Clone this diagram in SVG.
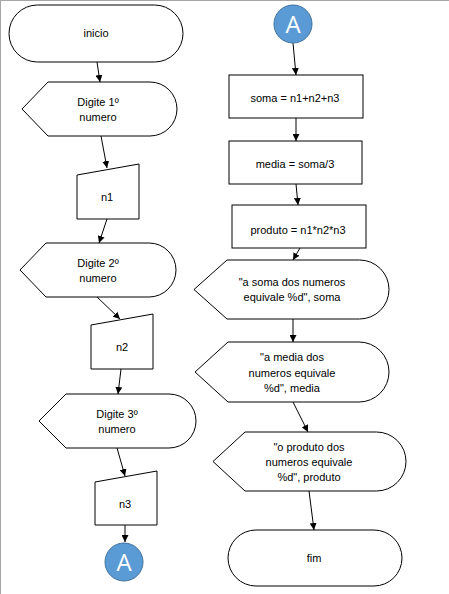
<svg xmlns="http://www.w3.org/2000/svg" width="449" height="594" viewBox="0 0 449 594">
  <style>
    .shape { fill: #ffffff; stroke: #000000; stroke-width: 1; }
    .conn { fill: none; stroke: #000000; stroke-width: 1; marker-end: url(#arrow); }
    .label { font-family: "Liberation Sans", Arial, sans-serif; font-size: 11px; fill: #000000; text-anchor: middle; }
    .conn-circle { fill: #5b9bd5; stroke: #41719c; stroke-width: 1; }
    .conn-label { font-family: "Open Sans", "Liberation Sans", Arial, sans-serif; font-size: 24px; fill: #ffffff; text-anchor: middle; }
  </style>
  <defs>
    <marker id="arrow" viewBox="0 0 10 10" refX="10" refY="5" markerWidth="7" markerHeight="7" markerUnits="userSpaceOnUse" orient="auto">
      <path d="M0,0 L10,5 L0,10 Z" fill="#000000"/>
    </marker>
  </defs>

  <rect width="449" height="594" fill="#ffffff"/>
  <!-- page frame edges -->
  <line x1="0" y1="0.5" x2="449" y2="0.5" stroke="#a6a6a6" stroke-width="1"/>
  <line x1="0.5" y1="0" x2="0.5" y2="594" stroke="#a6a6a6" stroke-width="1"/>

  <g id="connectors">
    <line class="conn" x1="97" y1="62" x2="100" y2="82"/>
    <line class="conn" x1="101" y1="136" x2="107" y2="168"/>
    <line class="conn" x1="107" y1="219" x2="99" y2="243"/>
    <line class="conn" x1="97" y1="297" x2="120" y2="319"/>
    <line class="conn" x1="121" y1="369" x2="118" y2="394"/>
    <line class="conn" x1="117" y1="448" x2="125" y2="476"/>
    <line class="conn" x1="125" y1="525" x2="125" y2="542"/>
    <line class="conn" x1="293" y1="43" x2="296" y2="75"/>
    <line class="conn" x1="296" y1="118" x2="296" y2="141"/>
    <line class="conn" x1="296" y1="184" x2="298" y2="205"/>
    <line class="conn" x1="300" y1="248" x2="293" y2="260"/>
    <line class="conn" x1="293" y1="319" x2="293" y2="342"/>
    <line class="conn" x1="293" y1="402" x2="308" y2="432"/>
    <line class="conn" x1="309" y1="491" x2="314" y2="530"/>
  </g>

  <g id="inicio">
    <rect class="shape" x="9" y="5" width="174" height="57" rx="28.5" ry="28.5"/>
    <text class="label" x="96" y="37">inicio</text>
  </g>

  <g id="digite1">
    <path class="shape" d="M22,109 L48,82 L150,82 A27,27 0 0 1 150,136 L48,136 Z"/>
    <text class="label" x="98" y="106">Digite 1º</text>
    <text class="label" x="98" y="121">numero</text>
  </g>

  <g id="n1">
    <path class="shape" d="M77,175 L139,164 L139,219 L77,219 Z"/>
    <text class="label" x="107" y="201">n1</text>
  </g>

  <g id="digite2">
    <path class="shape" d="M20,270 L46,243 L149,243 A27,27 0 0 1 149,297 L46,297 Z"/>
    <text class="label" x="98" y="267">Digite 2º</text>
    <text class="label" x="98" y="282">numero</text>
  </g>

  <g id="n2">
    <path class="shape" d="M91,325 L153,314 L153,369 L91,369 Z"/>
    <text class="label" x="122" y="351">n2</text>
  </g>

  <g id="digite3">
    <path class="shape" d="M39,421 L66,394 L169,394 A27,27 0 0 1 169,448 L66,448 Z"/>
    <text class="label" x="117" y="418">Digite 3º</text>
    <text class="label" x="117" y="433">numero</text>
  </g>

  <g id="n3">
    <path class="shape" d="M95,482 L157,471 L157,525 L95,525 Z"/>
    <text class="label" x="125" y="508">n3</text>
  </g>

  <g id="connector-a-out">
    <circle class="conn-circle" cx="124" cy="562" r="19"/>
    <text class="conn-label" x="124" y="571">A</text>
  </g>

  <g id="connector-a-in">
    <circle class="conn-circle" cx="293" cy="24" r="19"/>
    <text class="conn-label" x="293" y="33">A</text>
  </g>

  <g id="soma">
    <rect class="shape" x="229" y="75" width="134" height="43"/>
    <text class="label" x="295" y="102">soma = n1+n2+n3</text>
  </g>

  <g id="media">
    <rect class="shape" x="229" y="141" width="133" height="43"/>
    <text class="label" x="295" y="168">media = soma/3</text>
  </g>

  <g id="produto">
    <rect class="shape" x="232" y="205" width="134" height="43"/>
    <text class="label" x="298" y="234">produto = n1*n2*n3</text>
  </g>

  <g id="print-soma">
    <path class="shape" d="M194,289.5 L227,260 L359.5,260 A29.5,29.5 0 0 1 359.5,319 L227,319 Z"/>
    <text class="label" x="292" y="286">"a soma dos numeros</text>
    <text class="label" x="292" y="301">equivale %d", soma</text>
  </g>

  <g id="print-media">
    <path class="shape" d="M195,372 L228,342 L359,342 A30,30 0 0 1 359,402 L228,402 Z"/>
    <text class="label" x="292" y="361">"a media dos</text>
    <text class="label" x="292" y="377">numeros equivale</text>
    <text class="label" x="292" y="392">%d", media</text>
  </g>

  <g id="print-produto">
    <path class="shape" d="M213,461.5 L245,432 L376.5,432 A29.5,29.5 0 0 1 376.5,491 L245,491 Z"/>
    <text class="label" x="309" y="451">"o produto dos</text>
    <text class="label" x="309" y="466">numeros equivale</text>
    <text class="label" x="309" y="481">%d", produto</text>
  </g>

  <g id="fim">
    <rect class="shape" x="228" y="530" width="174" height="56" rx="28" ry="28"/>
    <text class="label" x="314" y="562">fim</text>
  </g>
</svg>
